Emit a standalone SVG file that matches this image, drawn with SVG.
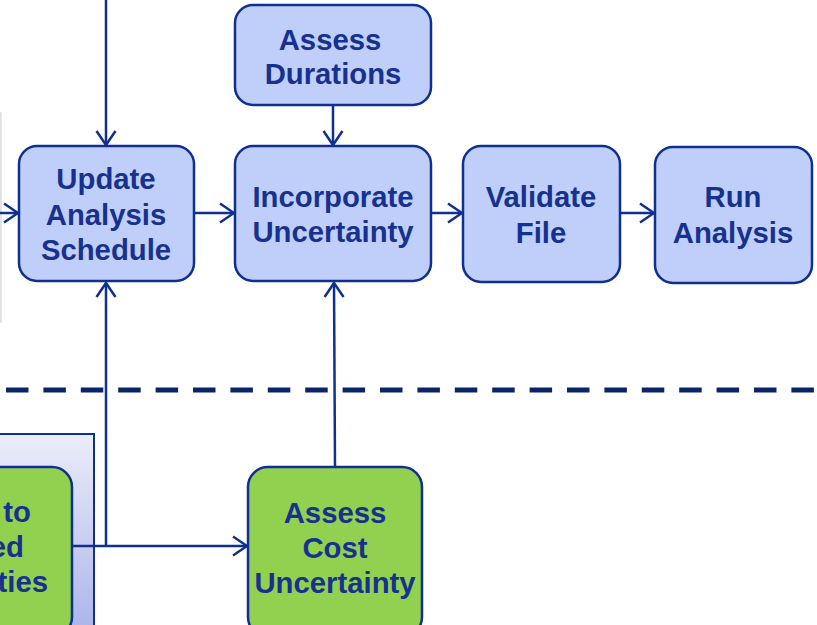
<svg xmlns="http://www.w3.org/2000/svg" width="817" height="625" viewBox="0 0 817 625">
<defs>
<style>
.box{fill:#c0cffa;stroke:#0f3090;stroke-width:2.5}
.gbox{fill:#92d050;stroke:#0f3090;stroke-width:2.5}
.t{font-family:"Liberation Sans",Arial,sans-serif;font-weight:bold;font-size:29.3px;fill:#17318f;text-anchor:middle}
.c{fill:none;stroke:#0f3090;stroke-width:2.5}
</style>
<marker id="ah" viewBox="0 0 16 22" refX="15" refY="11" markerWidth="16" markerHeight="22" markerUnits="userSpaceOnUse" orient="auto">
<path d="M1,1.5 L15,11 L1,20.5" fill="none" stroke="#0f3090" stroke-width="2.5"/>
</marker>
<linearGradient id="pg" x1="0" y1="0" x2="0" y2="1">
<stop offset="0" stop-color="#ebedf9"/>
<stop offset="1" stop-color="#aab4ea"/>
</linearGradient>
</defs>
<rect width="817" height="625" fill="#ffffff"/>
<g id="side-panel">
<rect x="-10" y="113" width="11" height="209" fill="#f3f3f3" stroke="#d0d0d0" stroke-width="1"/>
</g>
<g id="bottom-panel">
<rect x="-10" y="434" width="104" height="200" fill="url(#pg)" stroke="#0f3090" stroke-width="2"/>
</g>
<g id="divider">
<line x1="6" y1="390" x2="817" y2="390" stroke="#0a2468" stroke-width="5" stroke-dasharray="22.5 14.9"/>
</g>
<g id="connectors">
<line class="c" x1="106" y1="0" x2="106" y2="145" marker-end="url(#ah)"/>
<line class="c" x1="0" y1="213" x2="18" y2="213" marker-end="url(#ah)"/>
<line class="c" x1="194" y1="213" x2="234" y2="213" marker-end="url(#ah)"/>
<line class="c" x1="333" y1="105" x2="333" y2="145" marker-end="url(#ah)"/>
<line class="c" x1="431" y1="213" x2="462" y2="213" marker-end="url(#ah)"/>
<line class="c" x1="620" y1="213" x2="654" y2="213" marker-end="url(#ah)"/>
<line class="c" x1="72" y1="546" x2="247" y2="546" marker-end="url(#ah)"/>
<line class="c" x1="106" y1="546" x2="106" y2="283" marker-end="url(#ah)"/>
<line class="c" x1="335" y1="467" x2="334" y2="283" marker-end="url(#ah)"/>
</g>
<g id="assess-durations">
<rect class="box" x="235" y="5" width="196" height="100" rx="18"/>
<text class="t" x="330" y="50">Assess</text>
<text class="t" x="333" y="84">Durations</text>
</g>
<g id="update-analysis-schedule">
<rect class="box" x="19" y="146" width="175" height="135" rx="18"/>
<text class="t" x="106" y="189">Update</text>
<text class="t" x="106" y="224.5">Analysis</text>
<text class="t" x="106" y="260">Schedule</text>
</g>
<g id="incorporate-uncertainty">
<rect class="box" x="235" y="146" width="196" height="135" rx="18"/>
<text class="t" x="333" y="207">Incorporate</text>
<text class="t" x="333" y="242">Uncertainty</text>
</g>
<g id="validate-file">
<rect class="box" x="463" y="146" width="157" height="136" rx="18"/>
<text class="t" x="541" y="207">Validate</text>
<text class="t" x="541" y="243">File</text>
</g>
<g id="run-analysis">
<rect class="box" x="655" y="147" width="157" height="136" rx="18"/>
<text class="t" x="733" y="207">Run</text>
<text class="t" x="733" y="243">Analysis</text>
</g>
<g id="assess-cost-uncertainty">
<rect class="gbox" x="248" y="467" width="174" height="170" rx="20"/>
<text class="t" x="335" y="523">Assess</text>
<text class="t" x="335" y="558">Cost</text>
<text class="t" x="335" y="593">Uncertainty</text>
</g>
<g id="left-green-node">
<rect class="gbox" x="-30" y="467" width="102" height="170" rx="20"/>
<text class="t" x="31" y="522" style="text-anchor:end">to</text>
<text class="t" x="24" y="557" style="text-anchor:end">ed</text>
<text class="t" x="48" y="592" style="text-anchor:end">ties</text>
</g>
</svg>
